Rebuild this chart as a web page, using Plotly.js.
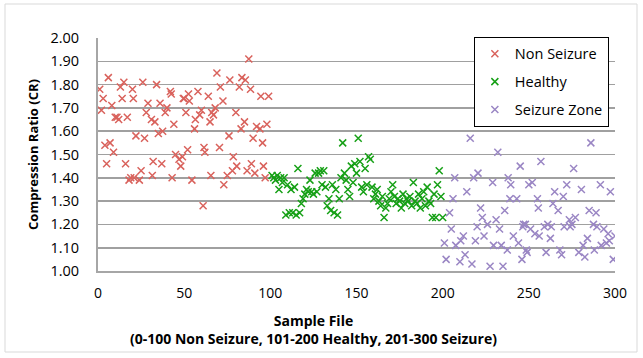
<!DOCTYPE html>
<html>
<head>
<meta charset="utf-8">
<script src="https://cdn.plot.ly/plotly-3.0.1.min.js"></script>
<style>html,body{margin:0;padding:0;background:#fff;}#chart{width:643px;height:358px;}</style>
</head>
<body>
<div id="chart"></div>
<script>
// Non Seizure (files 0-100)
const nsX = [1,2,3,4,5,6,7,8,9,10,11,12,13,14,15,16,17,18,19,20,20.5,21,22,24,25,26,27,28,29,31,31.5,32,33,34,35,36,37,37.5,39,40,42,42.5,43,44,45,47,48,49,49.5,50,51,52,52.5,53,54.5,56,56.5,58,59,60,61,61.5,62,64,65,65.5,66,67,68,69,70.5,71,72.5,73,75,76,76.5,78,78.5,80,80.5,82,83,83.5,85,85.5,86.5,87.5,88.5,89,90,91,92,94,94.5,95.5,96,97,98,99];
const nsY = [1.78,1.69,1.74,1.54,1.46,1.83,1.55,1.71,1.51,1.66,1.66,1.65,1.79,1.74,1.81,1.46,1.66,1.39,1.40,1.78,1.74,1.40,1.58,1.39,1.43,1.81,1.57,1.68,1.72,1.65,1.41,1.47,1.64,1.80,1.59,1.72,1.46,1.60,1.68,1.70,1.77,1.76,1.40,1.63,1.50,1.48,1.45,1.49,1.74,1.74,1.68,1.52,1.76,1.73,1.39,1.61,1.65,1.77,1.67,1.69,1.28,1.53,1.51,1.75,1.64,1.41,1.68,1.67,1.70,1.85,1.53,1.79,1.73,1.37,1.41,1.58,1.82,1.43,1.49,1.68,1.45,1.79,1.61,1.83,1.64,1.82,1.43,1.91,1.78,1.46,1.57,1.42,1.62,1.61,1.75,1.55,1.45,1.40,1.63,1.75];
// Healthy (files 101-200)
const hX = [101,102,103,104,105,106,107,108,109,110,111,112,113,114,115,116,117,118,119,120,121,122,123,124,125,126,127,128,129,130,131,132,133,134,135,136,137,138,139,140,141,142,143,144,145,146,147,148,149,150,151,152,153,154,155,156,157,158,159,160,161,162,163,164,165,166,167,168,169,170,171,172,173,174,175,176,177,178,179,180,181,182,183,184,185,186,187,188,189,190,191,192,193,194,195,196,197,198,199,200];
const hY = [1.41,1.40,1.39,1.41,1.35,1.40,1.38,1.40,1.24,1.37,1.25,1.35,1.25,1.36,1.24,1.44,1.25,1.29,1.31,1.33,1.35,1.34,1.39,1.34,1.33,1.42,1.34,1.42,1.43,1.37,1.43,1.36,1.28,1.31,1.26,1.37,1.25,1.35,1.24,1.31,1.40,1.55,1.42,1.39,1.35,1.32,1.45,1.38,1.46,1.42,1.57,1.47,1.36,1.34,1.44,1.37,1.49,1.48,1.36,1.31,1.33,1.35,1.30,1.28,1.32,1.23,1.27,1.29,1.31,1.34,1.37,1.32,1.29,1.31,1.30,1.27,1.33,1.29,1.31,1.30,1.32,1.28,1.38,1.30,1.29,1.33,1.27,1.31,1.34,1.28,1.36,1.30,1.29,1.23,1.33,1.23,1.37,1.43,1.32,1.23];
// Seizure Zone (files 201-300)
const szX = [201,202,204,205,206,207,207.6,210,210.5,212,213,214,216,217,218,219,220,220.5,222,223,224,226,227.5,229,229.5,231,232,233,234,235,236,237.5,238,239,239.5,241,243,244,245,246,246.5,247,248,248.5,249,250,251,252,253.5,255,255.5,256,257,259,260,261,262.5,263,264,265,267,268,269,270,270.5,272,273.5,274,275,276,277,279,280.5,281.5,282.5,284,285,286,287.5,288,289,289.5,291.5,292,293.5,295,296,296.7,297.3,299,300];
const szY = [1.12,1.05,1.25,1.18,1.31,1.40,1.11,1.04,1.13,1.15,1.07,1.34,1.57,1.03,1.40,1.13,1.19,1.42,1.27,1.23,1.15,1.20,1.02,1.38,1.11,1.22,1.51,1.18,1.11,1.02,1.26,1.09,1.40,1.31,1.37,1.15,1.31,1.12,1.45,1.05,1.19,1.20,1.20,1.09,1.08,1.37,1.18,1.38,1.16,1.31,1.27,1.15,1.47,1.19,1.08,1.20,1.14,1.19,1.29,1.34,1.26,1.09,1.07,1.32,1.19,1.37,1.22,1.19,1.20,1.44,1.23,1.08,1.35,1.11,1.06,1.14,1.26,1.55,1.20,1.09,1.25,1.19,1.37,1.11,1.18,1.12,1.16,1.13,1.34,1.05,1.15,1.17,1.16];

const xTitle = ['Sample File', '(0-100 Non Seizure, 101-200 Healthy, 201-300 Seizure)'];
const yTitle = 'Compression Ratio (CR)';

const font = "'Open Sans', 'Liberation Sans', sans-serif";
const mk = (c) => ({symbol: 'x-thin-open', size: 7, color: c, line: {color: c, width: 1.5}});

const traces = [
  {x: nsX, y: nsY, name: 'Non Seizure', legendgroup: 'a', type: 'scatter', mode: 'markers', marker: mk('#d9625c')},
  {x: hX, y: hY, name: 'Healthy', legendgroup: 'b', type: 'scatter', mode: 'markers', marker: mk('#16a016')},
  {x: szX, y: szY, name: 'Seizure Zone', legendgroup: 'c', type: 'scatter', mode: 'markers', marker: mk('#9a86c4')}
];

const layout = {
  width: 643, height: 358,
  margin: {l: 98, r: 28, t: 38, b: 87},
  paper_bgcolor: '#fff', plot_bgcolor: '#fff',
  font: {family: font, size: 13, color: '#000'},
  showlegend: true,
  legend: {
    x: 0.727, y: 1.005, xanchor: 'left', yanchor: 'top',
    bgcolor: '#fff', bordercolor: '#000', borderwidth: 1,
    font: {family: font, size: 14.5, color: '#000'},
    tracegroupgap: 6, itemwidth: 30
  },
  xaxis: {
    range: [0, 300], tickvals: [0,50,100,150,200,250,300],
    showgrid: false, zeroline: false,
    showline: true, linecolor: '#a6a6a6', linewidth: 2,
    ticks: '', ticklabelstandoff: 8,
    tickfont: {family: font, size: 14}
  },
  yaxis: {
    range: [1.0, 2.0], dtick: 0.1, tick0: 1.0, tickformat: '.2f',
    showgrid: true, gridcolor: '#a0a0a0', gridwidth: 1.6,
    zeroline: false, showline: true, linecolor: '#a6a6a6', linewidth: 2,
    ticks: '', ticklabelstandoff: 14,
    tickfont: {family: font, size: 14.5},
    title: {text: '<b>' + yTitle + '</b>', font: {family: font, size: 13}, standoff: 9}
  },
  annotations: [{
    xref: 'paper', yref: 'paper', x: (313 - 98) / 517, y: (271 - 309) / 233,
    xanchor: 'center', yanchor: 'top', showarrow: false, align: 'center',
    text: '<b>' + xTitle[0] + '</b><br><b>' + xTitle[1] + '</b>',
    font: {family: font, size: 14, color: '#000'}
  }],
  shapes: [{
    type: 'rect', xref: 'paper', yref: 'paper',
    x0: (5 - 98) / 517, x1: (637 - 98) / 517,
    y0: (271 - 352) / 233, y1: (271 - 4) / 233,
    line: {color: '#d9d9d9', width: 1}
  }]
};

Plotly.newPlot('chart', traces, layout, {displayModeBar: false, staticPlot: true});
</script>
</body>
</html>
